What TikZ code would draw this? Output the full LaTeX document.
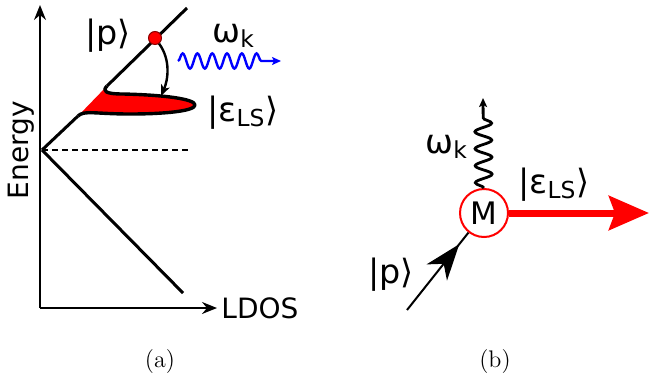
\documentclass[tikz,border=0pt]{standalone}
\usepackage{fontspec}
\newfontfamily\dejavu{DejaVu Sans}
\usepackage{tikz}
\usetikzlibrary{arrows.meta,decorations.pathmorphing,decorations.markings}

\newcommand{\ketlbl}[1]{|#1⟩}

\begin{document}
\begin{tikzpicture}[x=0.5pt, y=-0.5pt,
  lbl/.style={font=\dejavu\fontsize{14}{17}\selectfont, inner sep=0pt},
  biglbl/.style={font=\dejavu\fontsize{16.7}{20}\selectfont, inner sep=0pt, anchor=base west},
  caption/.style={font=\fontsize{12}{14}\selectfont, inner sep=0pt},
  axis/.style={line width=1pt, -{Stealth[length=7.5pt, width=6pt, inset=2.5pt]}},
  band/.style={line width=1.5pt, line join=round},
  peak/.style={line width=1.7pt, line join=round},
  dot/.style={circle, fill=red, draw=red!55!black, line width=0.5pt, minimum size=6.5pt, inner sep=0pt},
  relax/.style={line width=1.2pt, -{Stealth[length=5.5pt, width=4.5pt, inset=1.5pt]}},
  photon/.style={line width=1.2pt, decorate, decoration={snake, amplitude=3.8pt, segment length=7.4pt, post length=7pt}, -{Stealth[length=4.5pt, width=4pt, inset=1pt]}},
  emitted/.style={line width=1.4pt, decorate, decoration={snake, amplitude=4.2pt, segment length=8.5pt, post length=9pt}, -{Stealth[length=4.5pt, width=4pt, inset=1pt]}},
  vertex/.style={circle, draw=red, line width=1pt, minimum size=24pt, inner sep=0pt, font=\dejavu\fontsize{15.5}{18}\selectfont},
  outgo/.style={red, line width=3.5pt, -{Stealth[length=20pt, width=17pt, inset=3pt]}},
  incom/.style={line width=1pt, postaction={decorate}, decoration={markings, mark=at position 0.85 with {\arrow{Stealth[length=18pt, width=13pt, inset=5.5pt]}}}}
]
\useasboundingbox (0,0) rectangle (651,380);

% (a) density of states
\coordinate (orig) at (40,308);
\coordinate (ytip) at (40,5);
\coordinate (xtip) at (217,308);
\draw[axis] (orig) -- (ytip);
\draw[axis] (orig) -- (xtip);
\node[lbl, rotate=90] (energy) at (21,150) {Energy};
\node[lbl, anchor=west] (ldos) at (221,308) {LDOS};

\coordinate (edge) at (42,150);
\draw[dashed, dash pattern=on 3pt off 2pt, line width=0.6pt] (edge) -- (190,150);
\draw[band] (edge) -- (183,293);

% peak of the localized state
\fill[red] (78,116) -- (107,86) .. controls (102,91) and (105,94) .. (123,94)
  .. controls (165,95) and (195,99) .. (195,105)
  .. controls (195,111) and (165,114) .. (130,114)
  .. controls (95,114) and (84,110) .. (78,116) -- cycle;
\draw[band] (187,8) -- (107,86);
\draw[band] (78,116) -- (edge);
\draw[peak] (107,86) .. controls (102,91) and (105,94) .. (123,94)
  .. controls (165,95) and (195,99) .. (195,105)
  .. controls (195,111) and (165,114) .. (130,114)
  .. controls (95,114) and (84,110) .. (78,116);

\node[dot] (pdot) at (155,38) {};
\draw[relax] (pdot) .. controls (171,60) and (168,80) .. (161,96);

\coordinate (wstart) at (178,61);
\coordinate (wend) at (281,61);
\draw[photon, blue] (wstart) -- (wend);

\node[biglbl] (pa) at (85,44) {\ketlbl{p}};
\node[biglbl] (wa) at (212,42) {ω\textsubscript{k}};
\node[biglbl] (ea) at (207,121) {\ketlbl{ε\textsubscript{LS}}};

% (b) vertex
\node[vertex] (mvert) at (484,213) {M};
\coordinate (outend) at (649,213);
\coordinate (ktip) at (483,98);
\coordinate (pstart) at (407,310);
\draw[outgo] (mvert) -- (outend);
\draw[emitted] (mvert) -- (ktip);
\draw[incom] (pstart) -- (mvert);

\node[biglbl] (wb) at (425,153) {ω\textsubscript{k}};
\node[biglbl] (eb) at (518,193) {\ketlbl{ε\textsubscript{LS}}};
\node[biglbl] (pb) at (368,283) {\ketlbl{p}};

\node[caption] (capa) at (160,362) {(a)};
\node[caption] (capb) at (495,362) {(b)};
\end{tikzpicture}
\end{document}
